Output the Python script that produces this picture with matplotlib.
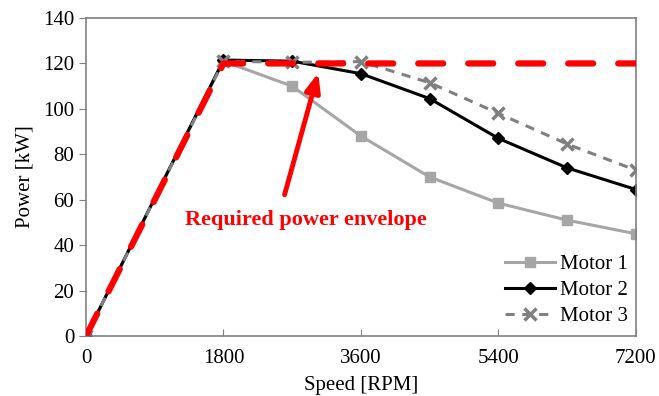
import numpy as np
import matplotlib.pyplot as plt

plt.rcParams['font.family'] = ['Liberation Serif', 'DejaVu Serif']

speed = [0, 1800, 2700, 3600, 4500, 5400, 6300, 7200]
motor1 = [0, 121, 110, 88, 70, 58.5, 51, 45]
motor2 = [0, 121.5, 121, 115.5, 104.5, 87, 74, 64.5]
motor3 = [0, 121, 120.5, 120.8, 111.5, 98, 84.5, 73]
env_speed = [0, 1800, 7200]
env_power = [0, 120, 120]

fig = plt.figure(figsize=(6.59, 3.96), dpi=100)
ax = fig.add_axes([0.1305, 0.1515, 0.8345, 0.803])

ax.plot(speed, motor1, color='#a6a6a6', lw=2.2, marker='s', ms=7, label='Motor 1')
ax.plot(speed, motor2, color='black', lw=2.2, marker='D', ms=6, label='Motor 2')
ax.plot(speed, motor3, color='#808080', lw=2.2, ls=(0, (3, 2.5)), marker='x', ms=9,
        mew=2.5, label='Motor 3')
ax.plot(env_speed, env_power, color='red', lw=4.5, ls=(0, (4, 4)),
        dash_capstyle='round', solid_capstyle='round', zorder=5)

ax.annotate('', xy=(3050, 117), xytext=(2590, 61),
            arrowprops=dict(arrowstyle='-|>,head_width=0.45,head_length=1.1',
                            color='red', lw=3.5), zorder=6)
ax.text(2880, 51, 'Required power envelope', color='red', fontsize=16,
        fontweight='bold', ha='center', va='center')

ax.set_xlim(0, 7200)
ax.set_ylim(0, 140)
ax.set_xticks([0, 1800, 3600, 5400, 7200])
ax.set_yticks(np.arange(0, 141, 20))
ax.tick_params(axis='x', direction='in', length=5, color='#808080', labelsize=15, pad=9)
ax.tick_params(axis='y', direction='out', length=5, color='#808080', labelsize=15)
for s in ax.spines.values():
    s.set_color('#808080')
    s.set_linewidth(1.2)

ax.set_xlabel('Speed [RPM]', fontsize=15, labelpad=6)
ax.set_ylabel('Power [kW]', fontsize=15, labelpad=6)

leg = ax.legend(loc='lower right', frameon=False, fontsize=15, handlelength=2.4,
                labelspacing=0.32, handletextpad=0.2, borderaxespad=0.0,
                bbox_to_anchor=(1.0, 0.004))

fig.savefig('out.png', dpi=100)
